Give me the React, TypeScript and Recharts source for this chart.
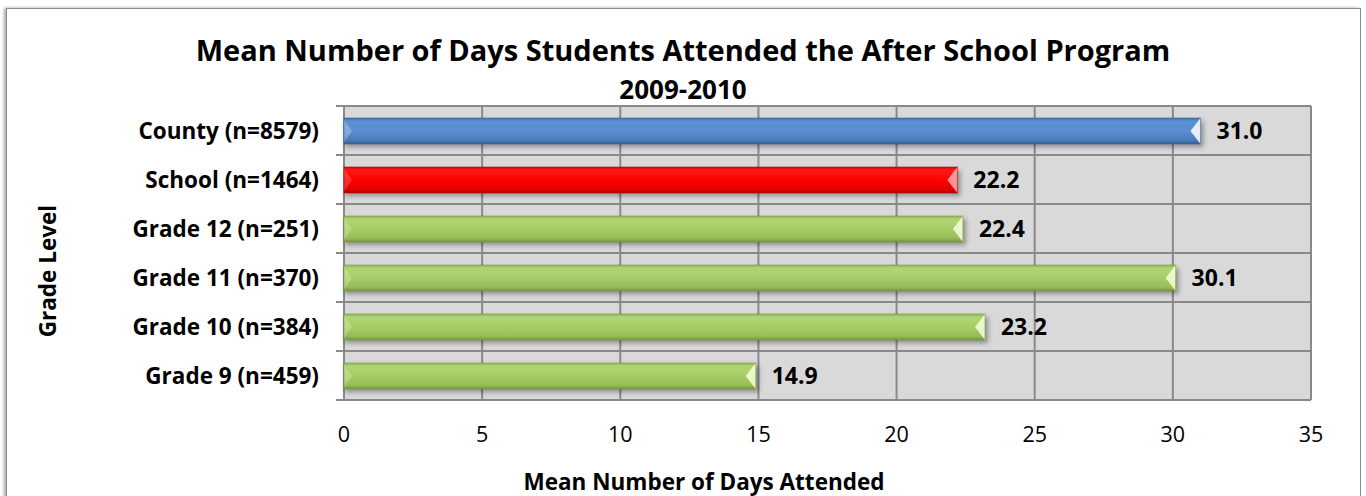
import React from 'react';
import { BarChart, Bar, XAxis, YAxis, CartesianGrid, LabelList } from 'recharts';

const categories = [
  'County (n=8579)',
  'School (n=1464)',
  'Grade 12 (n=251)',
  'Grade 11 (n=370)',
  'Grade 10 (n=384)',
  'Grade 9 (n=459)',
];
const meanDays = [31.0, 22.2, 22.4, 30.1, 23.2, 14.9];
const xTicks = [0, 5, 10, 15, 20, 25, 30, 35];
const barKinds = ['blue', 'red', 'green', 'green', 'green', 'green'];

const title = 'Mean Number of Days Students Attended the After School Program';
const subtitle = '2009-2010';
const xLabel = 'Mean Number of Days Attended';
const yLabel = 'Grade Level';

const data = categories.map((c, i) => ({ name: c, value: meanDays[i], kind: barKinds[i] }));

const FONT = '"Open Sans", Lato, sans-serif';

const palettes: Record<string, string[]> = {
  blue: ['#3f70ad', '#5b90d3', '#5a8ed0', '#4a7cbc', '#365f98'],
  red: ['#e00000', '#ff1a1a', '#ff0000', '#e80000', '#b00000'],
  green: ['#8fb255', '#b0d673', '#a7cc66', '#98bc59', '#76953f'],
};
const capColors: Record<string, string> = {
  blue: '#ffffff',
  red: '#ffb0b0',
  green: '#f4ffd8',
};

const BarShape = (props: any) => {
  const { x, y, width, height, index, payload } = props;
  if (width == null || width <= 0) return null;
  const kind = payload.kind;
  const p = palettes[kind];
  const gid = `bargrad-${index}`;
  const sid = `barshadow-${index}`;
  const cap = Math.min(10, width / 2);
  return (
    <g>
      <defs>
        <linearGradient id={gid} x1="0" y1="0" x2="0" y2="1">
          <stop offset="0" stopColor={p[0]} />
          <stop offset="0.12" stopColor={p[1]} />
          <stop offset="0.5" stopColor={p[2]} />
          <stop offset="0.85" stopColor={p[3]} />
          <stop offset="1" stopColor={p[4]} />
        </linearGradient>
        <filter id={sid} x="-5%" y="-40%" width="110%" height="200%">
          <feGaussianBlur stdDeviation="2.5" />
        </filter>
      </defs>
      <rect x={x + 1} y={y + 3} width={width + 2} height={height} fill="rgba(0,0,0,0.35)" filter={`url(#${sid})`} />
      <rect x={x} y={y} width={width} height={height} fill={`url(#${gid})`} />
      <polygon
        points={`${x},${y + 2} ${x + 8},${y + height / 2} ${x},${y + height - 2}`}
        fill={capColors[kind]}
        opacity={0.25}
      />
      <polygon
        points={`${x + width},${y} ${x + width - cap},${y + height / 2} ${x + width},${y + height}`}
        fill={capColors[kind]}
        opacity={0.85}
      />
      <rect x={x} y={y} width={width} height={height} fill="none" stroke={p[4]} strokeOpacity={0.5} strokeWidth={1} />
    </g>
  );
};

const YTick = (props: any) => {
  const { x, y, payload, index } = props;
  const band = 294 / categories.length;
  return (
    <g>
      <line x1={x + 17} x2={x + 25} y1={y - band / 2} y2={y - band / 2} stroke="#898989" strokeWidth={2} />
      {index === categories.length - 1 && (
        <line x1={x + 17} x2={x + 25} y1={y + band / 2} y2={y + band / 2} stroke="#898989" strokeWidth={2} />
      )}
      <text x={x} y={y} textAnchor="end" dominantBaseline="central" fontFamily={FONT} fontWeight={700} fontSize={22.5} fill="#000">
        {payload.value}
      </text>
    </g>
  );
};

export default function App() {
  return (
    <div style={{ position: 'absolute', left: 0, top: 0, width: 1366, height: 496, background: '#fff', overflow: 'hidden' }}>
      <div
        style={{
          position: 'absolute',
          left: 6,
          top: 8,
          width: 1355,
          height: 520,
          border: '1px solid #8c8c8c',
          boxShadow: '-2px 0 3px rgba(0,0,0,0.35)',
          boxSizing: 'border-box',
        }}
      />
      <BarChart
        width={1366}
        height={496}
        data={data}
        layout="vertical"
        margin={{ top: 106, right: 55, bottom: 0, left: 0 }}
        barSize={26}
        style={{ position: 'absolute', left: 0, top: 0 }}
      >
        <CartesianGrid
          fill="#d9d9d9"
          stroke="#898989"
          strokeWidth={2}
          horizontalCoordinatesGenerator={(args: any) => {
            const off = args.offset;
            return Array.from({ length: categories.length + 1 }, (_, i) => off.top + (i * off.height) / categories.length);
          }}
        />
        <XAxis
          type="number"
          domain={[0, 35]}
          ticks={xTicks}
          height={96}
          axisLine={false}
          tickLine={false}
          tickSize={0}
          tickMargin={27}
          tick={{ fontFamily: FONT, fontSize: 21.5, fill: '#000' }}
          interval={0}
        />
        <YAxis
          type="category"
          dataKey="name"
          width={344}
          axisLine={false}
          tickLine={false}
          tickSize={8}
          tickMargin={17}
          tick={<YTick />}
          interval={0}
        />
        <Bar dataKey="value" shape={<BarShape />} isAnimationActive={false}>
          <LabelList
            dataKey="value"
            position="right"
            offset={16}
            formatter={(v: any) => Number(v).toFixed(1)}
            style={{ fontFamily: FONT, fontWeight: 700, fontSize: 23, fill: '#000' }}
          />
        </Bar>
      </BarChart>
      <div
        style={{
          position: 'absolute',
          left: 0,
          width: 1366,
          top: 31,
          textAlign: 'center',
          fontFamily: FONT,
          fontWeight: 700,
          fontSize: 29,
          lineHeight: '38px',
          color: '#000',
          whiteSpace: 'nowrap',
        }}
      >
        {title}
      </div>
      <div
        style={{
          position: 'absolute',
          left: 0,
          width: 1366,
          top: 73,
          textAlign: 'center',
          fontFamily: FONT,
          fontWeight: 700,
          fontSize: 26,
          lineHeight: '32px',
          color: '#000',
        }}
      >
        {subtitle}
      </div>
      <div
        style={{
          position: 'absolute',
          left: 404,
          width: 600,
          top: 467,
          textAlign: 'center',
          fontFamily: FONT,
          fontWeight: 700,
          fontSize: 22.5,
          lineHeight: '30px',
          color: '#000',
        }}
      >
        {xLabel}
      </div>
      <div
        style={{
          position: 'absolute',
          left: 48 - 100,
          width: 200,
          top: 271 - 15,
          height: 30,
          textAlign: 'center',
          fontFamily: FONT,
          fontWeight: 700,
          fontSize: 22.5,
          lineHeight: '30px',
          color: '#000',
          transform: 'rotate(-90deg)',
        }}
      >
        {yLabel}
      </div>
    </div>
  );
}
